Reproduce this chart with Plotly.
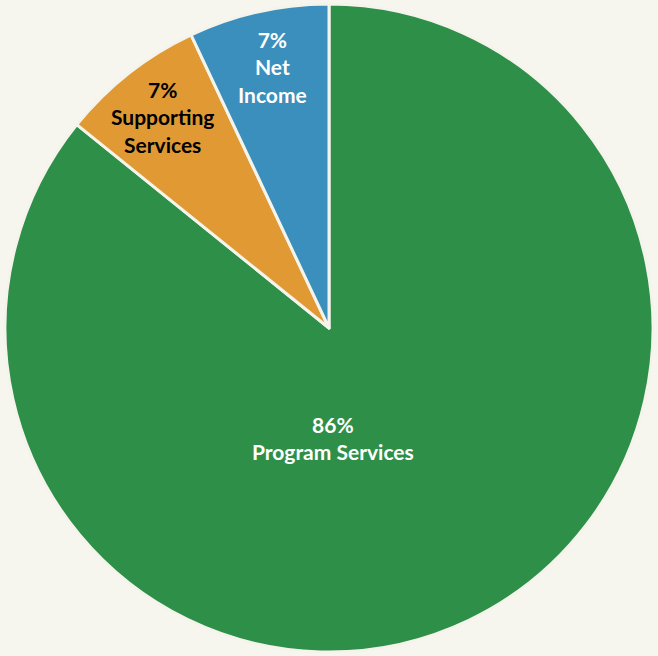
import plotly.graph_objects as go

labels = ["Program Services", "Supporting Services", "Net Income"]
values = [85.8, 7.2, 7]
text_lines = [["86%", "Program Services"], ["7%", "Supporting", "Services"], ["7%", "Net", "Income"]]
colors = ["#2e8f48", "#e19a33", "#3b8fbc"]
text_colors = ["white", "black", "white"]
# label block centres (paper coordinates)
ann_x = [333 / 658, 162 / 658, 272 / 658]
ann_y = [1 - 438 / 656, 1 - 117 / 656, 1 - 67 / 656]

fig = go.Figure(
    go.Pie(
        labels=labels,
        values=values,
        sort=False,
        direction="clockwise",
        rotation=0,
        marker=dict(colors=colors, line=dict(color="#f5f4ec", width=3)),
        textinfo="none",
        hoverinfo="label+percent",
        showlegend=False,
        domain=dict(x=[5 / 658, 653 / 658], y=[4 / 656, 652 / 656]),
    )
)

for i in range(len(labels)):
    fig.add_annotation(
        x=ann_x[i], y=ann_y[i], xref="paper", yref="paper",
        xanchor="center", yanchor="middle",
        text="<b>" + "<br>".join(text_lines[i]) + "</b>",
        showarrow=False,
        font=dict(family="Lato", size=21, color=text_colors[i]),
        align="center",
    )

fig.update_layout(
    width=658, height=656,
    margin=dict(l=0, r=0, t=0, b=0),
    paper_bgcolor="#f7f6ee",
    plot_bgcolor="#f7f6ee",
)

fig.write_html(
    "out.html",
    config={"displayModeBar": False},
    post_script="document.body.style.margin='0';document.body.style.overflow='hidden';document.body.style.background='#f7f6ee';",
)
